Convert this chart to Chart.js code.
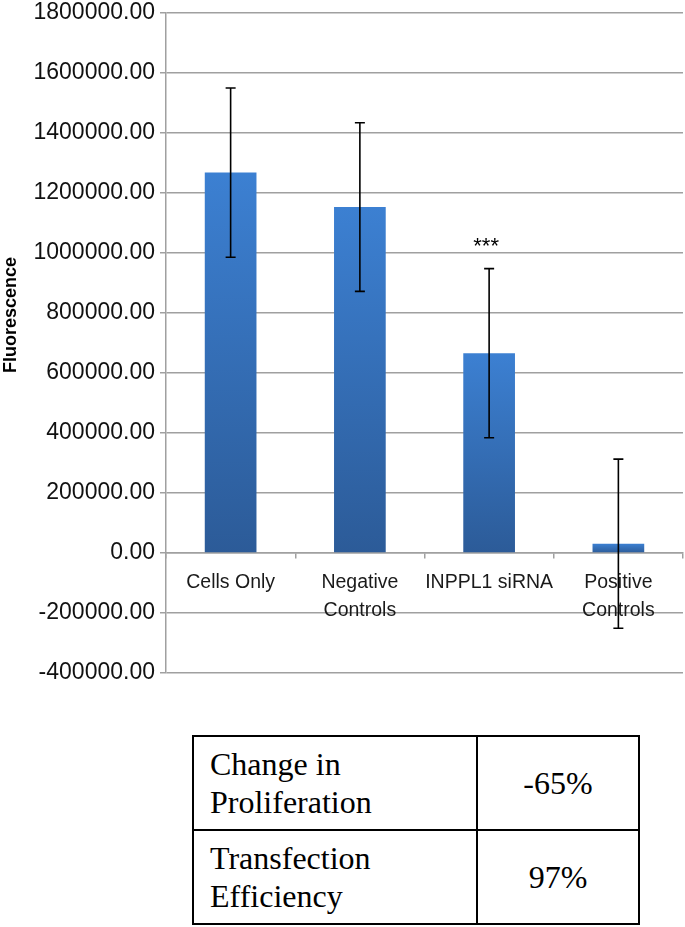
<!DOCTYPE html>
<html><head><meta charset="utf-8">
<script src="https://cdn.jsdelivr.net/npm/chart.js@4/dist/chart.umd.min.js"></script>
<style>
html,body{margin:0;padding:0;background:#fff;}
#wrap{position:absolute;left:0;top:0;width:685px;height:690px;}
table{position:absolute;left:192px;top:735px;width:448px;height:190px;border-collapse:collapse;font-family:"Liberation Serif","Times New Roman",serif;font-size:32px;line-height:1.2;color:#000;}
td{border:2px solid #000;padding:0 8px 0 16px;height:91px;box-sizing:border-box;}
td.v{text-align:center;padding:0;width:162px;}
</style></head>
<body>
<div id="wrap"><canvas id="c" width="685" height="690"></canvas></div>
<table>
<tr><td>Change in<br>Proliferation</td><td class="v">-65%</td></tr>
<tr><td>Transfection<br>Efficiency</td><td class="v">97%</td></tr>
</table>
<script>
const categories = ['Cells Only', ['Negative','Controls'], 'INPPL1 siRNA', ['Positive','Controls']];
const means = [1268000, 1153000, 666000, 31000];
const errors = [282000, 281000, 282000, 282000];
const significance = ['', '', '***', ''];
const yMin = -400000, yMax = 1800000, yStep = 200000;
const axisTitle = 'Fluorescence';

const SANS = '"Liberation Sans", Arial, Helvetica, sans-serif';

const errorBarPlugin = {
  id: 'errorBars',
  afterDatasetsDraw(chart) {
    const ctx = chart.ctx, y = chart.scales.y;
    const meta = chart.getDatasetMeta(0);
    ctx.save();
    ctx.strokeStyle = '#000';
    ctx.lineWidth = 1.6;
    meta.data.forEach((bar, i) => {
      const x = bar.x;
      const yt = y.getPixelForValue(means[i] + errors[i]);
      const yb = y.getPixelForValue(means[i] - errors[i]);
      ctx.beginPath();
      ctx.moveTo(x, yt); ctx.lineTo(x, yb);
      ctx.moveTo(x - 5, yt); ctx.lineTo(x + 5, yt);
      ctx.moveTo(x - 5, yb); ctx.lineTo(x + 5, yb);
      ctx.stroke();
      if (significance[i]) {
        ctx.fillStyle = '#000';
        ctx.font = '22px ' + SANS;
        ctx.textAlign = 'center';
        ctx.textBaseline = 'alphabetic';
        ctx.fillText(significance[i], x - 3, yt - 16);
      }
    });
    ctx.restore();
  }
};

const yTitlePlugin = {
  id: 'yTitle',
  afterDraw(chart) {
    const ctx = chart.ctx;
    ctx.save();
    ctx.translate(11, 315);
    ctx.rotate(-Math.PI / 2);
    ctx.font = 'bold 18px ' + SANS;
    ctx.fillStyle = '#000';
    ctx.textAlign = 'center';
    ctx.textBaseline = 'middle';
    ctx.fillText(axisTitle, 0, 0);
    ctx.restore();
  }
};

new Chart(document.getElementById('c'), {
  type: 'bar',
  data: {
    labels: categories,
    datasets: [{
      data: means,
      barPercentage: 0.4,
      categoryPercentage: 1.0,
      borderWidth: 0,
      backgroundColor(ctx) {
        const chart = ctx.chart;
        if (!chart.chartArea || ctx.raw === undefined) return '#3570bd';
        const y = chart.scales.y;
        const top = y.getPixelForValue(ctx.raw), base = y.getPixelForValue(0);
        if (Math.abs(base - top) < 1) return '#3a7bcc';
        const g = chart.ctx.createLinearGradient(0, top, 0, base);
        g.addColorStop(0, '#3c80d2');
        g.addColorStop(1, '#2c5b98');
        return g;
      }
    }]
  },
  options: {
    responsive: false,
    animation: false,
    layout: { padding: { top: 13, bottom: 17, left: 0, right: 2 } },
    plugins: { legend: { display: false }, tooltip: { enabled: false } },
    scales: {
      x: {
        position: { y: 0 },
        grid: { drawOnChartArea: false, drawTicks: true, tickLength: 5, color: '#a0a0a0', lineWidth: 1.5, offset: true },
        border: { display: true, color: '#a0a0a0', width: 1.5 },
        ticks: { font: { family: SANS, size: 19.5, lineHeight: 1.45 }, color: '#1a1a1a', padding: 10, maxRotation: 0, minRotation: 0, autoSkip: false },
        afterFit(s) { s.height = 0; }
      },
      y: {
        min: yMin, max: yMax,
        ticks: { stepSize: yStep, callback: v => Number(v).toFixed(2), font: { family: SANS, size: 23 }, color: '#111', padding: 5 },
        grid: { color: '#a0a0a0', lineWidth: 1.5, tickLength: 6 },
        border: { color: '#a0a0a0', width: 1.5 },
        afterFit(s) { s.width = 166; s.paddingTop = 0; s.paddingBottom = 0; }
      }
    }
  },
  plugins: [errorBarPlugin, yTitlePlugin]
});
</script>
</body></html>
